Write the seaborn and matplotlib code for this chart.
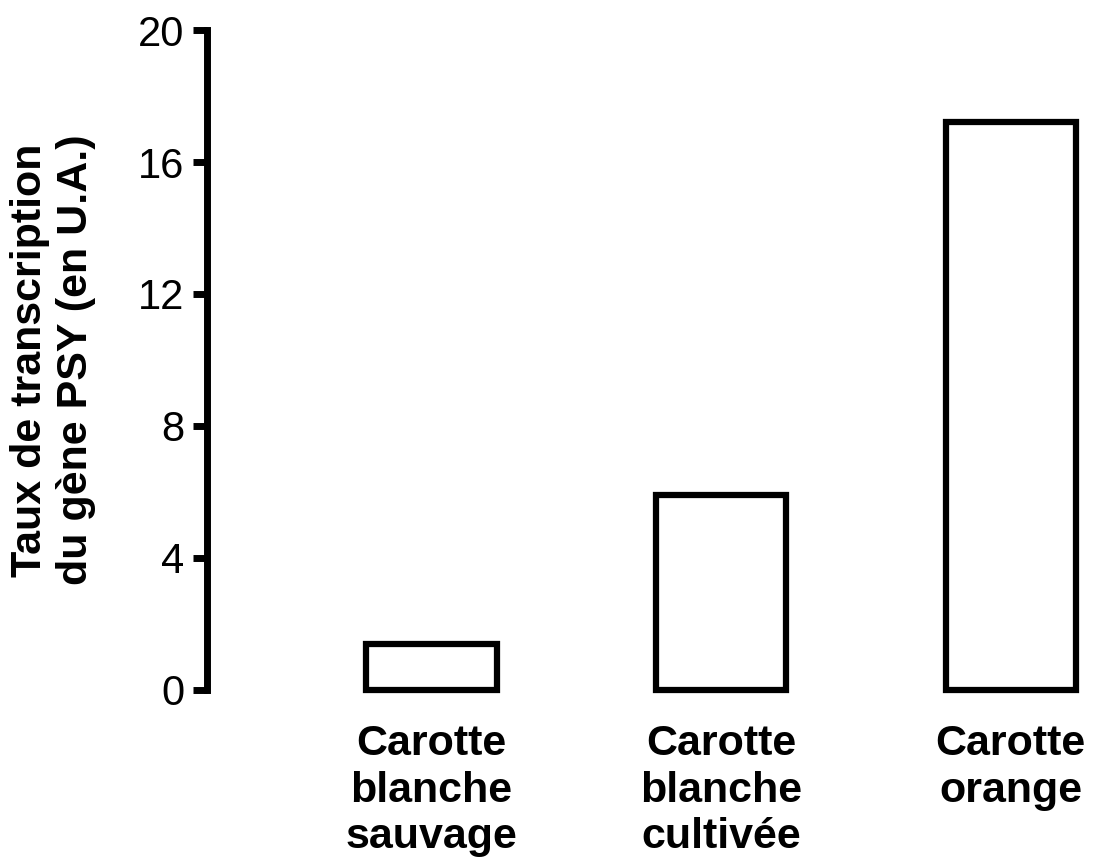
import matplotlib
matplotlib.use("Agg")
import matplotlib.pyplot as plt
import seaborn as sns
import pandas as pd

categories = ["Carotte\nblanche\nsauvage", "Carotte\nblanche\ncultivée", "Carotte\norange"]
values = [1.4, 5.9, 17.2]
yticks = [0, 4, 8, 12, 16, 20]
ylabel = "Taux de transcription\ndu gène PSY (en U.A.)"

sns.set_style("white")
plt.rcParams['font.family'] = ['Liberation Sans', 'DejaVu Sans']
plt.rcParams['text.color'] = 'black'
plt.rcParams['axes.labelcolor'] = 'black'
plt.rcParams['xtick.color'] = 'black'
plt.rcParams['ytick.color'] = 'black'

df = pd.DataFrame({"cat": categories, "val": values})

fig = plt.figure(figsize=(10.93, 8.59), dpi=100)
ax = fig.add_axes([0.189, 0.197, 0.802, 0.768])

sns.barplot(data=df, x="cat", y="val", ax=ax, color="white", edgecolor="black",
            linewidth=4.5, width=0.45, errorbar=None)
for p in ax.patches:
    p.set_clip_on(False)
    p.set_joinstyle("miter")

ax.set_xlim(-0.776, 2.25)
ax.set_ylim(0, 20)
ax.set_yticks(yticks)
ax.set_yticklabels([str(t) for t in yticks], fontsize=30)
ax.tick_params(axis="y", length=10, width=5, pad=6, direction="out", left=True,
               colors="black")
ax.tick_params(axis="x", length=0, pad=25, colors="black")
for lab in ax.get_xticklabels():
    lab.set_fontsize(31)
    lab.set_fontweight("bold")
    lab.set_linespacing(1.2)
    lab.set_color("black")

for s in ["top", "right", "bottom"]:
    ax.spines[s].set_visible(False)
ax.spines["left"].set_linewidth(5)
ax.spines["left"].set_color("black")
ax.spines["left"].set_bounds(0, 20)

ax.set_xlabel("")
ax.set_ylabel(ylabel, fontsize=31, fontweight="bold", linespacing=1.2,
              labelpad=30, color="black")

fig.savefig("out.png", dpi=100, facecolor="white")
